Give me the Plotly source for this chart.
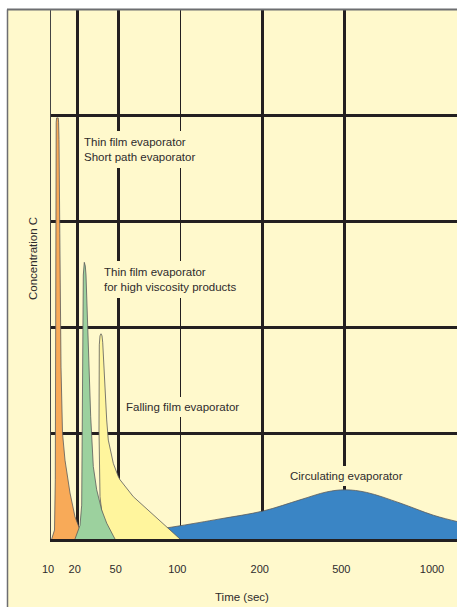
import plotly.graph_objects as go

# ---- data (schematic axis units: x = position along time axis, y = concentration 0..100) ----
time_labels = ["10", "20", "50", "100", "200", "500", "1000"]
time_label_pos = [0, 26.7, 67.7, 129.3, 211.7, 293.3, 384]
major_grid_pos = [26.7, 67.7, 211.7, 293.3]
thin_grid_pos = [129.3]
conc_grid = [20, 40, 60, 80]

thin_film_x = [0.7, 3.5, 4.3, 4.5, 4.8, 5.2, 5.6, 7.2, 7.6, 8.0, 8.8, 10.0, 11.5, 14, 19, 24, 29, 31.5, 32]
thin_film_y = [0, 1.7, 11.2, 45.2, 73.5, 78.8, 79.6, 79.6, 78.8, 75.5, 57.8, 32.5, 20.0, 14.9, 8.7, 4.2, 1.7, 0.4, 0]

high_visc_x = [24, 25.7, 29, 30.7, 31, 31.7, 32.3, 33.3, 34.3, 35, 37.3, 39.7, 42.3, 45.7, 50.7, 55.7, 62.3, 64]
high_visc_y = [0, 0.8, 2.6, 6.4, 16.8, 35.7, 49.9, 52.3, 51.6, 49.9, 35.7, 23.1, 13.7, 9.3, 5.5, 3.0, 0.6, 0]

falling_x = [62.3, 57.3, 55, 51.7, 49, 48, 48.3, 49, 50, 51, 51.7, 54, 55.7, 57.3, 60.7, 62.3, 67.3, 69, 82.3, 99, 115.7, 129]
falling_y = [0, 1.4, 2.3, 3.6, 8.0, 20.6, 36.7, 38.4, 38.8, 38.4, 37.2, 26.9, 22.5, 18.7, 15.9, 14.3, 11.8, 11.2, 8.0, 5.2, 2.3, 0]

circ_x = [109, 129, 169, 212.3, 249, 275.7, 294, 315.7, 349, 382.3, 406, 429]
circ_y = [1.9, 2.5, 3.8, 5.3, 7.4, 8.9, 9.3, 8.8, 6.8, 4.5, 3.3, 2.3]

labels = ["Thin film evaporator<br>Short path evaporator",
          "Thin film evaporator<br>for high viscosity products",
          "Falling film evaporator",
          "Circulating evaporator"]

# ---- styling ----
BG = "#FFF9CC"
INK = "#231f20"
TXT = "#2e2b2c"
OUT = "#5a5a5a"
FONT = "Liberation Sans, Arial, sans-serif"

fig = go.Figure()

def area(x, y, color, xaxis="x", shape="linear"):
    fig.add_trace(go.Scatter(x=x, y=y, mode="lines", fill="tozeroy", fillcolor=color,
                             line=dict(color=OUT, width=0.8, shape=shape), xaxis=xaxis, yaxis="y",
                             hoverinfo="skip", showlegend=False))

area(circ_x, circ_y, "#3A85C5", shape="spline")
area(falling_x, falling_y, "#FFF59D")
area(thin_film_x, thin_film_y, "#F8AA58")
area(high_visc_x, high_visc_y, "#9CD19E", xaxis="x2")

L, R, T, B = 51, 0, 10, 68
W, H = 457, 607
pw, ph = W - L - R, H - T - B

def px_x(p):
    return (p - L) / pw

def px_y(p):
    return (H - B - p) / ph

# yellow sheet + grey borders
fig.add_shape(type="rect", xref="paper", yref="paper", x0=px_x(7), x1=px_x(460),
              y0=px_y(610), y1=px_y(10), fillcolor=BG, line=dict(width=0), layer="below")
fig.add_shape(type="line", xref="paper", yref="paper", x0=px_x(7), x1=px_x(460),
              y0=px_y(9.5), y1=px_y(9.5), line=dict(color="#6d6e71", width=2), layer="above")
fig.add_shape(type="line", xref="paper", yref="paper", x0=px_x(7.5), x1=px_x(7.5),
              y0=px_y(610), y1=px_y(9.5), line=dict(color="#6d6e71", width=1.5), layer="above")

ann_font = dict(family=FONT, size=11.5, color=TXT)
fig.add_annotation(x=27.5, y=73.6, xref="x", yref="y", text=labels[0], showarrow=False,
                   xanchor="left", yanchor="middle", align="left", font=ann_font,
                   bgcolor=BG, borderpad=5, borderwidth=0)
fig.add_annotation(x=48.3, y=49.1, xref="x", yref="y", text=labels[1], showarrow=False,
                   xanchor="left", yanchor="middle", align="left", font=ann_font,
                   bgcolor=BG, borderpad=5, borderwidth=0)
fig.add_annotation(x=71.3, y=24.9, xref="x", yref="y", text=labels[2], showarrow=False,
                   xanchor="left", yanchor="middle", align="left", font=ann_font,
                   bgcolor=BG, borderpad=4, borderwidth=0)
fig.add_annotation(x=295.8, y=11.9, xref="x", yref="y", text=labels[3], showarrow=False,
                   xanchor="center", yanchor="middle", align="center", font=ann_font,
                   bgcolor=BG, borderpad=4, borderwidth=0)

# axis titles
fig.add_annotation(x=px_x(242), y=px_y(596.7), xref="paper", yref="paper", text="Time (sec)",
                   showarrow=False, xanchor="center", yanchor="middle", font=ann_font)
fig.add_annotation(x=px_x(33), y=px_y(259), xref="paper", yref="paper", text="Concentration C",
                   showarrow=False, textangle=-90, xanchor="center", yanchor="middle", font=ann_font)

xr = [0, pw]
fig.update_layout(
    width=W, height=H, autosize=False,
    margin=dict(l=L, r=R, t=T, b=B, pad=0),
    paper_bgcolor="white", plot_bgcolor=BG,
    showlegend=False, hovermode=False,
    xaxis=dict(range=xr, tickmode="array", tickvals=major_grid_pos, showticklabels=False,
               ticks="", showgrid=True, gridcolor=INK, gridwidth=2.5, zeroline=False,
               showline=True, linecolor=INK, linewidth=3,
               minor=dict(tickmode="array", tickvals=thin_grid_pos, showgrid=True,
                          gridcolor=INK, gridwidth=1.3, ticks="")),
    xaxis2=dict(range=xr, overlaying="x", anchor="y", side="bottom", tickmode="array",
                tickvals=time_label_pos, ticktext=time_labels, showgrid=False, zeroline=False,
                ticks="", showline=False, ticklabelshift=-3, ticklabelstandoff=22,
                tickfont=dict(family=FONT, size=11, color=TXT)),
    yaxis=dict(range=[0, 100], tickmode="array", tickvals=conc_grid, showticklabels=False,
               ticks="", showgrid=True, gridcolor=INK, gridwidth=2.5, zeroline=False,
               showline=True, linecolor="#444444", linewidth=1),
)

fig.write_html("out.html", config={"displayModeBar": False},
               post_script="document.body.style.margin='0px';document.body.style.padding='0px';")
